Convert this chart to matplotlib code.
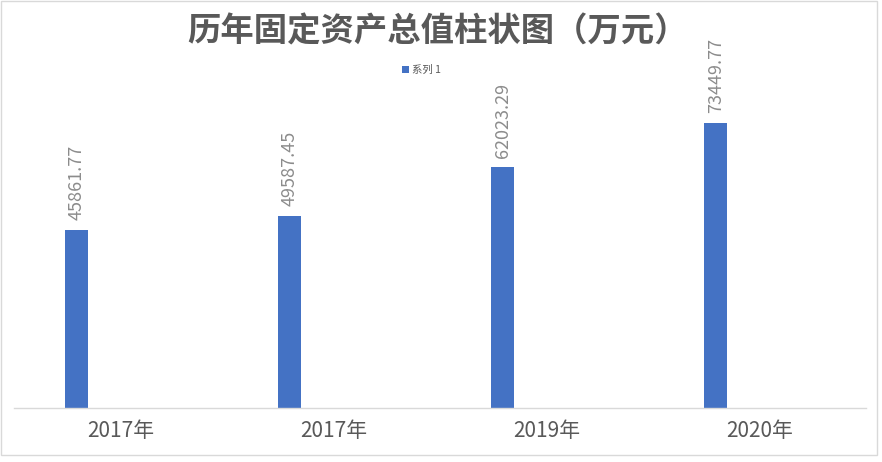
import matplotlib
matplotlib.use("Agg")
import matplotlib.pyplot as plt
from matplotlib.patches import Rectangle
import numpy as np

plt.rcParams['font.family'] = ['Noto Sans CJK SC', 'DejaVu Sans']

categories = ["2017年", "2017年", "2019年", "2020年"]
values = [45861.77, 49587.45, 62023.29, 73449.77]
series_name = "系列 1"
title = "历年固定资产总值柱状图（万元）"

bar_color = "#4472C4"
text_gray = "#595959"
label_gray = "#8c8c8c"

fig = plt.figure(figsize=(8.82, 4.62), dpi=100)
ax = fig.add_axes([0.0159, 0.1169, 0.966, 0.6718])

x = np.arange(len(categories))
bars = ax.bar(x - 0.205, values, width=0.108, color=bar_color, label=series_name)

for b, v in zip(bars, values):
    ax.annotate(f"{v:.2f}", (b.get_x() + b.get_width() / 2, v),
                xytext=(0, 7), textcoords="offset points",
                rotation=90, ha="center", va="bottom",
                fontsize=13, color=label_gray)

ax.set_xlim(-0.5, len(categories) - 0.5)
ax.set_ylim(0, 80000)
ax.set_xticks(x)
ax.set_xticklabels(categories, fontsize=15, color=text_gray)
ax.tick_params(axis="x", length=0, pad=9)
ax.set_yticks([])
for s in ["top", "left", "right"]:
    ax.spines[s].set_visible(False)
ax.spines["bottom"].set_color("#d9d9d9")
ax.spines["bottom"].set_linewidth(1)

fig.text(0.496, 0.93, title, ha="center", va="center", fontsize=24,
         fontweight="bold", color=text_gray)

leg = fig.legend(loc="center", bbox_to_anchor=(0.478, 0.848), frameon=False,
                 fontsize=7.5, handlelength=0.6, handleheight=0.6,
                 handletextpad=0.3, labelcolor=text_gray)

# chart border
fig.patches.append(Rectangle((0.001, 0.015), 0.993, 0.983, transform=fig.transFigure,
                             fill=False, edgecolor="#d9d9d9", linewidth=1))

fig.savefig("out.png", dpi=100)
